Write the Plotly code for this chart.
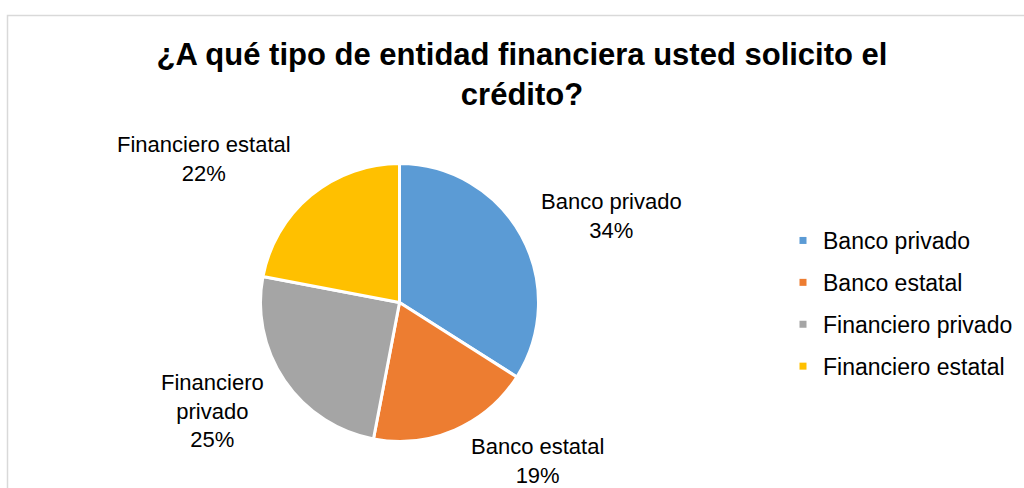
import plotly.graph_objects as go

# Survey answers: type of financial institution where the credit was requested
categories = ["Banco privado", "Banco estatal", "Financiero privado", "Financiero estatal"]
shares = [34, 19, 25, 22]
# label text as it is wrapped beside each slice
label_lines = [["Banco privado"], ["Banco estatal"], ["Financiero", "privado"], ["Financiero estatal"]]

colors = ["#5B9BD5", "#ED7D31", "#A5A5A5", "#FFC000"]
title_text = "¿A qué tipo de entidad financiera usted solicito el<br>crédito?"

W, H = 1024, 488
FONT = "Arial, Liberation Sans, sans-serif"

# pie geometry in pixels (centre, radius)
cx, cy, r = 399.5, 302.5, 139
# label anchor centres in pixels
label_pos = [(611, 216), (537, 461), (212, 411), (204, 159)]

fig = go.Figure()

fig.add_trace(go.Pie(
    labels=categories,
    values=shares,
    sort=False,
    direction="clockwise",
    rotation=0,
    marker=dict(colors=colors, line=dict(color="white", width=3)),
    textinfo="none",
    hoverinfo="label+percent",
    showlegend=False,
    domain=dict(x=[(cx - r) / W, (cx + r) / W],
                y=[(H - cy - r - 2) / H, (H - cy + r + 2) / H]),
))

# legend entries with small square markers
for i, (name, col) in enumerate(zip(categories, colors)):
    fig.add_trace(go.Scatter(
        x=[None], y=[None], mode="markers", name=name,
        legendgroup=f"g{i}",
        marker=dict(symbol="square", size=7, color=col),
        hoverinfo="skip",
    ))

total = sum(shares)
annotations = []
for lines, v, (px, py) in zip(label_lines, shares, label_pos):
    pct = round(v / total * 100)
    annotations.append(dict(
        x=px / W, y=1 - py / H, xref="paper", yref="paper",
        xanchor="center", yanchor="middle",
        text="<br>".join(lines + [f"{pct}%"]),
        showarrow=False, align="center",
        font=dict(family=FONT, size=22, color="#000000"),
    ))

fig.update_layout(
    width=W, height=H,
    margin=dict(l=0, r=0, t=0, b=0),
    paper_bgcolor="white", plot_bgcolor="white",
    title=dict(text=f"<b>{title_text}</b>", x=522 / W, y=1 - 65 / H,
               xanchor="center", yanchor="middle",
               font=dict(family=FONT, size=31, color="#000000")),
    xaxis=dict(visible=False), yaxis=dict(visible=False),
    legend=dict(x=783 / W, y=1 - 219 / H, xanchor="left", yanchor="top",
                font=dict(family=FONT, size=23, color="#000000"),
                tracegroupgap=9, itemsizing="trace",
                bgcolor="rgba(0,0,0,0)"),
    annotations=annotations,
    shapes=[dict(type="rect", xref="paper", yref="paper",
                 x0=7.5 / W, x1=1.02, y0=-0.02, y1=1 - 15.5 / H,
                 line=dict(color="#D9D9D9", width=1.5), fillcolor="rgba(0,0,0,0)",
                 layer="below")],
)

fig.write_html("out.html")
